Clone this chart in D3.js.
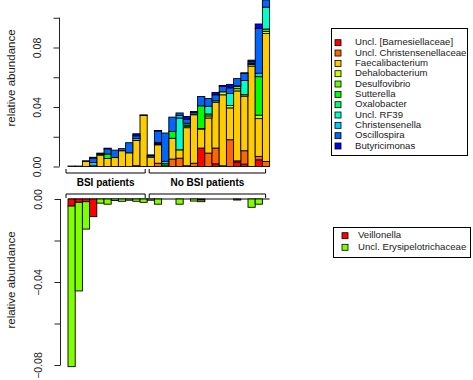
<!DOCTYPE html>
<html><head><meta charset="utf-8">
<script src="https://cdn.jsdelivr.net/npm/d3@7"></script>
<style>body{margin:0;background:#fff}svg{display:block}text{font-family:"Liberation Sans",Arial,sans-serif}</style>
</head><body><svg id="c" width="473" height="380"></svg>
<script>
// ---------- data ----------
const samples = d3.range(1, 29).map(i => "S" + i);
const groups = [
  {name: "BSI patients", first: 0, last: 10},
  {name: "No BSI patients", first: 11, last: 27}
];
const topTaxa = ["Uncl. [Barnesiellaceae]","Uncl. Christensenellaceae","Faecalibacterium","Dehalobacterium","Desulfovibrio","Sutterella","Oxalobacter","Uncl. RF39","Christensenella","Oscillospira","Butyricimonas"];
const topColors = ["#FF0000","#FF6600","#FFCC00","#CCFF00","#66FF00","#00FF00","#00FF66","#00FFCC","#00CCFF","#0066FF","#0000FF"];
const barnesiellaceae   = [0,0,0,0,0,0,0,0,0,0,0, 0,0,0,0,0,0,0,0.0124,0,0.0018,0,0,0.003,0.0016,0,0.0045,0];
const christensenellaceae=[0,0,0,0,0,0,0,0,0,0.0005,0, 0,0.0022,0,0.005,0.0056,0.0005,0.0022,0,0.009,0.0106,0.0005,0.018,0.0008,0.009,0,0.0023,0.0034];
const faecalibacterium  = [0.0003,0.0003,0.0035,0,0.0077,0.0054,0.006,0.0106,0.0092,0.017,0.0343, 0.0063,0.0124,0,0.014,0.0056,0.0256,0.0326,0.0128,0.0236,0.0308,0.0477,0.0214,0.047,0.0367,0.0675,0.0254,0.086];
const dehalobacterium   = [0,0,0,0,0,0,0,0,0,0,0, 0,0.0005,0,0,0,0.001,0,0.0003,0.0014,0,0.002,0.0016,0.0015,0,0.0011,0.0023,0.0015];
const desulfovibrio     = [0,0,0,0.0005,0,0,0,0,0,0,0, 0,0.0005,0.001,0,0,0.0008,0,0,0.0013,0.001,0,0,0.0015,0.001,0.0006,0,0.0015];
const sutterella        = [0,0,0,0,0,0.003,0,0,0,0,0, 0,0,0.001,0.0045,0,0.0012,0,0.0153,0,0,0,0,0,0,0,0.0259,0];
const oxalobacter       = [0,0,0,0,0,0,0,0,0,0,0, 0,0.0005,0,0,0,0,0,0,0,0,0,0,0,0,0,0,0];
const rf39              = [0,0,0,0,0,0,0,0,0,0,0, 0,0,0,0,0.0214,0,0,0,0.0052,0,0,0.0081,0,0.0095,0,0,0.0147];
const christensenella   = [0,0,0,0.0022,0,0,0,0,0,0.0013,0, 0,0,0.0015,0,0.0018,0,0,0,0,0,0,0,0.0005,0,0,0.0023,0];
const oscillospira      = [0,0,0,0.003,0.0008,0.0035,0.005,0.0014,0.0068,0.0018,0, 0.001,0.0078,0.019,0.0097,0.0016,0.0027,0.0014,0.0063,0.0052,0.004,0.0038,0.0038,0.0048,0.0047,0.0012,0.0302,0.005];
const butyricimonas     = [0,0,0.0003,0.0005,0.0005,0.0004,0,0,0,0.0014,0.0004, 0.0005,0.0003,0,0,0,0.0018,0.0008,0,0,0.0016,0.0005,0.0023,0,0.0005,0.0011,0.0029,0.002];
const topSeries = [barnesiellaceae,christensenellaceae,faecalibacterium,dehalobacterium,desulfovibrio,sutterella,oxalobacter,rf39,christensenella,oscillospira,butyricimonas];

const botTaxa = ["Veillonella","Uncl. Erysipelotrichaceae"];
const botColors = ["#FF0000","#80FF00"];
const veillonella      = [0.0034,0.0016,0.0013,0.0085,0,0,0,0,0,0,0, 0,0,0,0,0,0,0,0.0005,0,0,0,0,0,0,0,0,0];
const erysipelotrichaceae=[0.0774,0.0427,0.0132,0,0.002,0.0025,0.0007,0.0011,0.0006,0.0011,0.0016, 0.0006,0.0025,0,0,0.0025,0,0.001,0.0008,0,0,0,0,0.0005,0,0.004,0.0025,0];
const botSeries = [veillonella, erysipelotrichaceae];

const topTicks = [0,0.02,0.04,0.06,0.08,0.10];
const topLabels = ["0.00","","0.04","","0.08",""];
const botTicks = [0,-0.02,-0.04,-0.06,-0.08];
const botLabels = ["0.00","","\u22120.04","","\u22120.08"];
const yTitle = "relative abundance";

// ---------- drawing ----------
const svg = d3.select("#c");
const x = d3.scaleBand().domain(samples).range([68, 269.6]).paddingInner(0).paddingOuter(0);
const yTop = d3.scaleLinear().domain([0, 0.08]).range([166.5, 47.5]);
const yBot = d3.scaleLinear().domain([-0.08, 0]).range([365, 199]);
const textCol = "#1a1a1a";

function stackRows(series, sign) {
  return samples.map((s, i) => { const r = {id: s}; series.forEach((v, k) => r["k" + k] = sign * v[i]); return r; });
}
const stTop = d3.stack().keys(topSeries.map((_, k) => "k" + k))(stackRows(topSeries, 1));
const gTop = svg.append("g");
stTop.forEach((layer, k) => {
  gTop.append("g").attr("fill", topColors[k]).selectAll("rect")
    .data(layer.filter(d => d[1] !== d[0])).join("rect")
    .attr("x", d => x(d.data.id)).attr("width", x.bandwidth())
    .attr("y", d => yTop(d[1])).attr("height", d => yTop(d[0]) - yTop(d[1]))
    .attr("stroke", "#000").attr("stroke-width", 0.9);
});

// bottom: stack downward
const stBot = d3.stack().keys(botSeries.map((_, k) => "k" + k)).offset(d3.stackOffsetDiverging)(stackRows(botSeries, -1));
const gBot = svg.append("g");
gBot.append("line").attr("x1", x(samples[0])).attr("x2", x(samples[samples.length-1]) + x.bandwidth())
  .attr("y1", yBot(0)).attr("y2", yBot(0)).attr("stroke", "#000").attr("stroke-width", 1);
stBot.forEach((layer, k) => {
  gBot.append("g").attr("fill", botColors[k]).selectAll("rect")
    .data(layer.filter(d => d[1] !== d[0])).join("rect")
    .attr("x", d => x(d.data.id)).attr("width", x.bandwidth())
    .attr("y", d => yBot(Math.max(d[0], d[1]))).attr("height", d => Math.abs(yBot(d[0]) - yBot(d[1])))
    .attr("stroke", "#000").attr("stroke-width", 0.9);
});

// axes
function drawAxis(scale, ticks, labels, ax, titleY) {
  const g = svg.append("g").attr("transform", `translate(${ax},0)`);
  const axis = d3.axisLeft(scale).tickValues(ticks).tickSize(6).tickFormat((d, i) => labels[i]);
  g.call(axis);
  g.select(".domain").attr("d", `M0,${scale(ticks[0])}V${scale(ticks[ticks.length-1])}`).attr("stroke", "#222");
  g.selectAll(".tick line").attr("stroke", "#222");
  g.selectAll(".tick text").attr("x", null).attr("dy", null)
    .attr("transform", "translate(-21,0) rotate(-90)").attr("text-anchor", "middle").attr("dominant-baseline", "middle")
    .attr("font-size", 10.5).attr("fill", textCol).style("font-family", '"Liberation Sans",Arial,sans-serif');
  svg.append("text").attr("transform", `translate(12,${titleY}) rotate(-90)`).attr("text-anchor", "middle")
    .attr("dominant-baseline", "middle").attr("font-size", 11.5).attr("fill", textCol).text(yTitle);
}
drawAxis(yTop, topTicks, topLabels, 59.5, 78);
drawAxis(yBot, botTicks, botLabels, 60.5, 280);

// group brackets and labels
groups.forEach((g, gi) => {
  const x0 = x(samples[g.first]) + (gi === 0 ? -2 : 2);
  const x1 = x(samples[g.last]) + x.bandwidth() - (gi === 0 ? 2 : 4);
  svg.append("path").attr("d", `M${x0},169V173H${x1}V169`).attr("fill", "none").attr("stroke", "#000").attr("stroke-width", 1);
  svg.append("path").attr("d", `M${x0},198V194H${x1}V198`).attr("fill", "none").attr("stroke", "#000").attr("stroke-width", 1);
  svg.append("text").attr("x", (x0 + x1) / 2).attr("y", 183.5).attr("text-anchor", "middle").attr("dominant-baseline", "middle")
    .attr("font-size", 10).attr("font-weight", "bold").attr("fill", "#000").text(g.name);
});

// legends
function legend(names, colors, bx, by, bw, bh, sx, tx, y0, step) {
  svg.append("rect").attr("x", bx).attr("y", by).attr("width", bw).attr("height", bh)
    .attr("fill", "#fff").attr("stroke", "#000").attr("stroke-width", 1);
  names.forEach((n, i) => {
    const yy = y0 + i * step;
    svg.append("rect").attr("x", sx).attr("y", yy - 3).attr("width", 6).attr("height", 6)
      .attr("fill", colors[i]).attr("stroke", "#000").attr("stroke-width", 0.8);
    svg.append("text").attr("x", tx).attr("y", yy).attr("dominant-baseline", "middle")
      .attr("font-size", 9.6).attr("fill", textCol).text(n);
  });
}
legend(topTaxa, topColors, 331.5, 28.5, 136, 127, 335, 355, 42.7, 10.33);
legend(botTaxa, botColors, 333.5, 227.5, 137, 30, 342, 358, 235.7, 11.6);
</script></body></html>
